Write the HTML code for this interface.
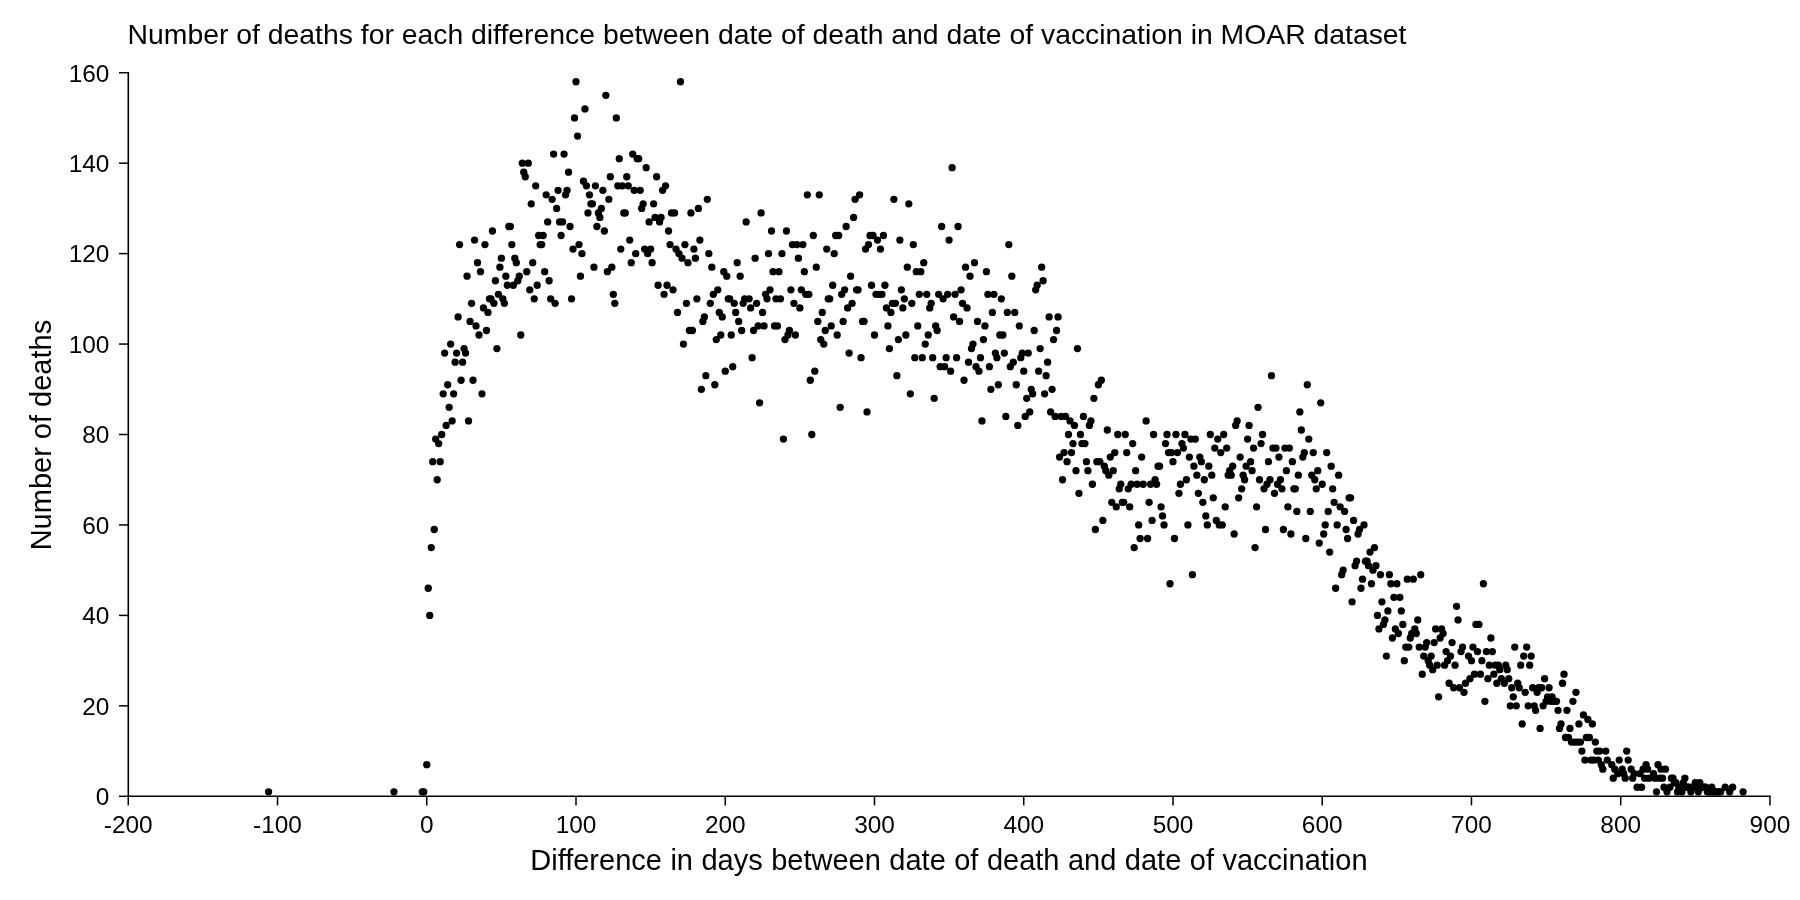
<!DOCTYPE html>
<html><head><meta charset="utf-8"><title>Number of deaths</title>
<style>
html,body{margin:0;padding:0;background:#fff;}
svg{display:block;will-change:transform;font-family:"Liberation Sans",sans-serif;fill:#000;}
.ax line{stroke:#000;stroke-width:1.5;stroke-linecap:butt;}
.tk{font-size:24.4px;}
</style></head><body>
<svg width="1800" height="900" viewBox="0 0 1800 900">
<rect width="1800" height="900" fill="#fff"/>
<text x="127.6" y="44" font-size="28.35">Number of deaths for each difference between date of death and date of vaccination in MOAR dataset</text>
<g class="ax">
<line x1="128.3" y1="71.95" x2="128.3" y2="797.1" style="stroke-width:1.6"/>
<line x1="127.25" y1="796.35" x2="1770.7" y2="796.35"/>
<line x1="128.27" y1="796.35" x2="128.27" y2="805.4"/><line x1="277.52" y1="796.35" x2="277.52" y2="805.4"/><line x1="426.76" y1="796.35" x2="426.76" y2="805.4"/><line x1="576.0" y1="796.35" x2="576.0" y2="805.4"/><line x1="725.25" y1="796.35" x2="725.25" y2="805.4"/><line x1="874.49" y1="796.35" x2="874.49" y2="805.4"/><line x1="1023.74" y1="796.35" x2="1023.74" y2="805.4"/><line x1="1172.98" y1="796.35" x2="1172.98" y2="805.4"/><line x1="1322.22" y1="796.35" x2="1322.22" y2="805.4"/><line x1="1471.47" y1="796.35" x2="1471.47" y2="805.4"/><line x1="1620.71" y1="796.35" x2="1620.71" y2="805.4"/><line x1="1769.96" y1="796.35" x2="1769.96" y2="805.4"/>
<line x1="119" y1="796.3" x2="128" y2="796.3"/><line x1="119" y1="705.85" x2="128" y2="705.85"/><line x1="119" y1="615.4" x2="128" y2="615.4"/><line x1="119" y1="524.96" x2="128" y2="524.96"/><line x1="119" y1="434.51" x2="128" y2="434.51"/><line x1="119" y1="344.06" x2="128" y2="344.06"/><line x1="119" y1="253.61" x2="128" y2="253.61"/><line x1="119" y1="163.16" x2="128" y2="163.16"/><line x1="119" y1="72.72" x2="128" y2="72.72"/>
</g>
<g class="tk"><text x="128.27" y="833" text-anchor="middle">-200</text><text x="277.52" y="833" text-anchor="middle">-100</text><text x="426.76" y="833" text-anchor="middle">0</text><text x="576.0" y="833" text-anchor="middle">100</text><text x="725.25" y="833" text-anchor="middle">200</text><text x="874.49" y="833" text-anchor="middle">300</text><text x="1023.74" y="833" text-anchor="middle">400</text><text x="1172.98" y="833" text-anchor="middle">500</text><text x="1322.22" y="833" text-anchor="middle">600</text><text x="1471.47" y="833" text-anchor="middle">700</text><text x="1620.71" y="833" text-anchor="middle">800</text><text x="1769.96" y="833" text-anchor="middle">900</text><text x="109.4" y="805.05" text-anchor="end">0</text><text x="109.4" y="714.6" text-anchor="end">20</text><text x="109.4" y="624.15" text-anchor="end">40</text><text x="109.4" y="533.71" text-anchor="end">60</text><text x="109.4" y="443.26" text-anchor="end">80</text><text x="109.4" y="352.81" text-anchor="end">100</text><text x="109.4" y="262.36" text-anchor="end">120</text><text x="109.4" y="171.91" text-anchor="end">140</text><text x="109.4" y="82.37" text-anchor="end">160</text></g>
<text x="948.9" y="869.9" font-size="29" word-spacing="0.43" text-anchor="middle">Difference in days between date of death and date of vaccination</text>
<text transform="translate(51,435.1) rotate(-90)" font-size="29" text-anchor="middle">Number of deaths</text>
<g>
<circle cx="268.56" cy="791.78" r="3.65"/>
<circle cx="393.93" cy="791.78" r="3.65"/>
<circle cx="422.28" cy="791.78" r="3.65"/>
<circle cx="423.78" cy="791.78" r="3.65"/>
<circle cx="426.76" cy="764.64" r="3.65"/>
<circle cx="428.25" cy="588.27" r="3.65"/>
<circle cx="429.74" cy="615.4" r="3.65"/>
<circle cx="431.24" cy="547.57" r="3.65"/>
<circle cx="432.73" cy="461.64" r="3.65"/>
<circle cx="434.22" cy="529.48" r="3.65"/>
<circle cx="435.71" cy="439.03" r="3.65"/>
<circle cx="437.21" cy="479.73" r="3.65"/>
<circle cx="438.7" cy="443.55" r="3.65"/>
<circle cx="440.19" cy="461.64" r="3.65"/>
<circle cx="441.68" cy="434.51" r="3.65"/>
<circle cx="443.18" cy="393.81" r="3.65"/>
<circle cx="444.67" cy="353.1" r="3.65"/>
<circle cx="446.16" cy="425.46" r="3.65"/>
<circle cx="447.65" cy="384.76" r="3.65"/>
<circle cx="449.15" cy="407.37" r="3.65"/>
<circle cx="450.64" cy="344.06" r="3.65"/>
<circle cx="452.13" cy="420.94" r="3.65"/>
<circle cx="453.62" cy="393.81" r="3.65"/>
<circle cx="455.12" cy="362.15" r="3.65"/>
<circle cx="456.61" cy="353.1" r="3.65"/>
<circle cx="458.1" cy="316.93" r="3.65"/>
<circle cx="459.59" cy="244.57" r="3.65"/>
<circle cx="461.09" cy="380.24" r="3.65"/>
<circle cx="462.58" cy="362.15" r="3.65"/>
<circle cx="464.07" cy="348.58" r="3.65"/>
<circle cx="465.56" cy="353.1" r="3.65"/>
<circle cx="467.06" cy="276.22" r="3.65"/>
<circle cx="468.55" cy="420.94" r="3.65"/>
<circle cx="470.04" cy="321.45" r="3.65"/>
<circle cx="471.53" cy="303.36" r="3.65"/>
<circle cx="473.03" cy="380.24" r="3.65"/>
<circle cx="474.52" cy="240.04" r="3.65"/>
<circle cx="476.01" cy="325.97" r="3.65"/>
<circle cx="477.5" cy="262.66" r="3.65"/>
<circle cx="479.0" cy="335.02" r="3.65"/>
<circle cx="480.49" cy="271.7" r="3.65"/>
<circle cx="481.98" cy="393.81" r="3.65"/>
<circle cx="483.47" cy="307.88" r="3.65"/>
<circle cx="484.97" cy="244.57" r="3.65"/>
<circle cx="486.46" cy="330.49" r="3.65"/>
<circle cx="487.95" cy="312.4" r="3.65"/>
<circle cx="489.44" cy="298.84" r="3.65"/>
<circle cx="490.93" cy="298.84" r="3.65"/>
<circle cx="492.43" cy="231.0" r="3.65"/>
<circle cx="493.92" cy="303.36" r="3.65"/>
<circle cx="495.41" cy="280.75" r="3.65"/>
<circle cx="496.9" cy="348.58" r="3.65"/>
<circle cx="498.4" cy="294.31" r="3.65"/>
<circle cx="499.89" cy="267.18" r="3.65"/>
<circle cx="501.38" cy="258.13" r="3.65"/>
<circle cx="502.87" cy="298.84" r="3.65"/>
<circle cx="504.37" cy="303.36" r="3.65"/>
<circle cx="505.86" cy="276.22" r="3.65"/>
<circle cx="507.35" cy="285.27" r="3.65"/>
<circle cx="508.84" cy="226.48" r="3.65"/>
<circle cx="510.34" cy="226.48" r="3.65"/>
<circle cx="511.83" cy="244.57" r="3.65"/>
<circle cx="513.32" cy="285.27" r="3.65"/>
<circle cx="514.81" cy="258.13" r="3.65"/>
<circle cx="516.31" cy="262.66" r="3.65"/>
<circle cx="517.8" cy="280.75" r="3.65"/>
<circle cx="519.29" cy="276.22" r="3.65"/>
<circle cx="520.78" cy="335.02" r="3.65"/>
<circle cx="522.28" cy="163.16" r="3.65"/>
<circle cx="523.77" cy="172.21" r="3.65"/>
<circle cx="525.26" cy="176.73" r="3.65"/>
<circle cx="526.75" cy="271.7" r="3.65"/>
<circle cx="528.25" cy="163.16" r="3.65"/>
<circle cx="529.74" cy="289.79" r="3.65"/>
<circle cx="531.23" cy="203.87" r="3.65"/>
<circle cx="532.72" cy="262.66" r="3.65"/>
<circle cx="534.22" cy="298.84" r="3.65"/>
<circle cx="535.71" cy="185.78" r="3.65"/>
<circle cx="537.2" cy="285.27" r="3.65"/>
<circle cx="538.69" cy="235.52" r="3.65"/>
<circle cx="540.19" cy="244.57" r="3.65"/>
<circle cx="541.68" cy="244.57" r="3.65"/>
<circle cx="543.17" cy="235.52" r="3.65"/>
<circle cx="544.66" cy="271.7" r="3.65"/>
<circle cx="546.16" cy="194.82" r="3.65"/>
<circle cx="547.65" cy="221.96" r="3.65"/>
<circle cx="549.14" cy="280.75" r="3.65"/>
<circle cx="550.63" cy="298.84" r="3.65"/>
<circle cx="552.12" cy="199.34" r="3.65"/>
<circle cx="553.62" cy="154.12" r="3.65"/>
<circle cx="555.11" cy="303.36" r="3.65"/>
<circle cx="556.6" cy="208.39" r="3.65"/>
<circle cx="558.09" cy="190.3" r="3.65"/>
<circle cx="559.59" cy="221.96" r="3.65"/>
<circle cx="561.08" cy="235.52" r="3.65"/>
<circle cx="562.57" cy="221.96" r="3.65"/>
<circle cx="564.06" cy="154.12" r="3.65"/>
<circle cx="565.56" cy="194.82" r="3.65"/>
<circle cx="567.05" cy="190.3" r="3.65"/>
<circle cx="568.54" cy="172.21" r="3.65"/>
<circle cx="570.03" cy="226.48" r="3.65"/>
<circle cx="571.53" cy="298.84" r="3.65"/>
<circle cx="573.02" cy="249.09" r="3.65"/>
<circle cx="574.51" cy="117.94" r="3.65"/>
<circle cx="576.0" cy="81.76" r="3.65"/>
<circle cx="577.5" cy="136.03" r="3.65"/>
<circle cx="578.99" cy="244.57" r="3.65"/>
<circle cx="580.48" cy="276.22" r="3.65"/>
<circle cx="581.97" cy="253.61" r="3.65"/>
<circle cx="583.47" cy="181.25" r="3.65"/>
<circle cx="584.96" cy="108.9" r="3.65"/>
<circle cx="586.45" cy="185.78" r="3.65"/>
<circle cx="587.94" cy="212.91" r="3.65"/>
<circle cx="589.44" cy="194.82" r="3.65"/>
<circle cx="590.93" cy="203.87" r="3.65"/>
<circle cx="592.42" cy="203.87" r="3.65"/>
<circle cx="593.91" cy="267.18" r="3.65"/>
<circle cx="595.41" cy="185.78" r="3.65"/>
<circle cx="596.9" cy="226.48" r="3.65"/>
<circle cx="598.39" cy="212.91" r="3.65"/>
<circle cx="599.88" cy="217.43" r="3.65"/>
<circle cx="601.38" cy="208.39" r="3.65"/>
<circle cx="602.87" cy="190.3" r="3.65"/>
<circle cx="604.36" cy="231.0" r="3.65"/>
<circle cx="605.85" cy="95.33" r="3.65"/>
<circle cx="607.35" cy="271.7" r="3.65"/>
<circle cx="608.84" cy="199.34" r="3.65"/>
<circle cx="610.33" cy="176.73" r="3.65"/>
<circle cx="611.82" cy="267.18" r="3.65"/>
<circle cx="613.32" cy="294.31" r="3.65"/>
<circle cx="614.81" cy="303.36" r="3.65"/>
<circle cx="616.3" cy="117.94" r="3.65"/>
<circle cx="617.79" cy="185.78" r="3.65"/>
<circle cx="619.28" cy="158.64" r="3.65"/>
<circle cx="620.78" cy="249.09" r="3.65"/>
<circle cx="622.27" cy="185.78" r="3.65"/>
<circle cx="623.76" cy="212.91" r="3.65"/>
<circle cx="625.25" cy="212.91" r="3.65"/>
<circle cx="626.75" cy="176.73" r="3.65"/>
<circle cx="628.24" cy="185.78" r="3.65"/>
<circle cx="629.73" cy="240.04" r="3.65"/>
<circle cx="631.22" cy="262.66" r="3.65"/>
<circle cx="632.72" cy="154.12" r="3.65"/>
<circle cx="634.21" cy="190.3" r="3.65"/>
<circle cx="635.7" cy="253.61" r="3.65"/>
<circle cx="637.19" cy="158.64" r="3.65"/>
<circle cx="638.69" cy="158.64" r="3.65"/>
<circle cx="640.18" cy="190.3" r="3.65"/>
<circle cx="641.67" cy="208.39" r="3.65"/>
<circle cx="643.16" cy="203.87" r="3.65"/>
<circle cx="644.66" cy="249.09" r="3.65"/>
<circle cx="646.15" cy="167.69" r="3.65"/>
<circle cx="647.64" cy="253.61" r="3.65"/>
<circle cx="649.13" cy="221.96" r="3.65"/>
<circle cx="650.63" cy="249.09" r="3.65"/>
<circle cx="652.12" cy="262.66" r="3.65"/>
<circle cx="653.61" cy="203.87" r="3.65"/>
<circle cx="655.1" cy="217.43" r="3.65"/>
<circle cx="656.6" cy="176.73" r="3.65"/>
<circle cx="658.09" cy="285.27" r="3.65"/>
<circle cx="659.58" cy="221.96" r="3.65"/>
<circle cx="661.07" cy="217.43" r="3.65"/>
<circle cx="662.57" cy="190.3" r="3.65"/>
<circle cx="664.06" cy="294.31" r="3.65"/>
<circle cx="665.55" cy="185.78" r="3.65"/>
<circle cx="667.04" cy="285.27" r="3.65"/>
<circle cx="668.54" cy="231.0" r="3.65"/>
<circle cx="670.03" cy="244.57" r="3.65"/>
<circle cx="671.52" cy="212.91" r="3.65"/>
<circle cx="673.01" cy="289.79" r="3.65"/>
<circle cx="674.51" cy="212.91" r="3.65"/>
<circle cx="676.0" cy="249.09" r="3.65"/>
<circle cx="677.49" cy="312.4" r="3.65"/>
<circle cx="678.98" cy="253.61" r="3.65"/>
<circle cx="680.47" cy="81.76" r="3.65"/>
<circle cx="681.97" cy="258.13" r="3.65"/>
<circle cx="683.46" cy="344.06" r="3.65"/>
<circle cx="684.95" cy="244.57" r="3.65"/>
<circle cx="686.44" cy="303.36" r="3.65"/>
<circle cx="687.94" cy="262.66" r="3.65"/>
<circle cx="689.43" cy="330.49" r="3.65"/>
<circle cx="690.92" cy="212.91" r="3.65"/>
<circle cx="692.41" cy="330.49" r="3.65"/>
<circle cx="693.91" cy="249.09" r="3.65"/>
<circle cx="695.4" cy="258.13" r="3.65"/>
<circle cx="696.89" cy="298.84" r="3.65"/>
<circle cx="698.38" cy="208.39" r="3.65"/>
<circle cx="699.88" cy="240.04" r="3.65"/>
<circle cx="701.37" cy="389.28" r="3.65"/>
<circle cx="702.86" cy="321.45" r="3.65"/>
<circle cx="704.35" cy="316.93" r="3.65"/>
<circle cx="705.85" cy="375.72" r="3.65"/>
<circle cx="707.34" cy="199.34" r="3.65"/>
<circle cx="708.83" cy="253.61" r="3.65"/>
<circle cx="710.32" cy="303.36" r="3.65"/>
<circle cx="711.82" cy="267.18" r="3.65"/>
<circle cx="713.31" cy="294.31" r="3.65"/>
<circle cx="714.8" cy="384.76" r="3.65"/>
<circle cx="716.29" cy="339.54" r="3.65"/>
<circle cx="717.79" cy="289.79" r="3.65"/>
<circle cx="719.28" cy="312.4" r="3.65"/>
<circle cx="720.77" cy="335.02" r="3.65"/>
<circle cx="722.26" cy="316.93" r="3.65"/>
<circle cx="723.76" cy="271.7" r="3.65"/>
<circle cx="725.25" cy="371.19" r="3.65"/>
<circle cx="726.74" cy="276.22" r="3.65"/>
<circle cx="728.23" cy="298.84" r="3.65"/>
<circle cx="729.73" cy="298.84" r="3.65"/>
<circle cx="731.22" cy="335.02" r="3.65"/>
<circle cx="732.71" cy="366.67" r="3.65"/>
<circle cx="734.2" cy="303.36" r="3.65"/>
<circle cx="735.7" cy="312.4" r="3.65"/>
<circle cx="737.19" cy="262.66" r="3.65"/>
<circle cx="738.68" cy="321.45" r="3.65"/>
<circle cx="740.17" cy="276.22" r="3.65"/>
<circle cx="741.66" cy="330.49" r="3.65"/>
<circle cx="743.16" cy="303.36" r="3.65"/>
<circle cx="744.65" cy="298.84" r="3.65"/>
<circle cx="746.14" cy="221.96" r="3.65"/>
<circle cx="749.13" cy="298.84" r="3.65"/>
<circle cx="750.62" cy="307.88" r="3.65"/>
<circle cx="752.11" cy="357.63" r="3.65"/>
<circle cx="753.6" cy="330.49" r="3.65"/>
<circle cx="755.1" cy="258.13" r="3.65"/>
<circle cx="756.59" cy="303.36" r="3.65"/>
<circle cx="758.08" cy="325.97" r="3.65"/>
<circle cx="759.57" cy="402.85" r="3.65"/>
<circle cx="761.07" cy="212.91" r="3.65"/>
<circle cx="762.56" cy="312.4" r="3.65"/>
<circle cx="764.05" cy="325.97" r="3.65"/>
<circle cx="765.54" cy="294.31" r="3.65"/>
<circle cx="767.04" cy="298.84" r="3.65"/>
<circle cx="768.53" cy="253.61" r="3.65"/>
<circle cx="770.02" cy="289.79" r="3.65"/>
<circle cx="771.51" cy="231.0" r="3.65"/>
<circle cx="773.01" cy="271.7" r="3.65"/>
<circle cx="774.5" cy="325.97" r="3.65"/>
<circle cx="775.99" cy="298.84" r="3.65"/>
<circle cx="777.48" cy="325.97" r="3.65"/>
<circle cx="778.98" cy="271.7" r="3.65"/>
<circle cx="780.47" cy="298.84" r="3.65"/>
<circle cx="781.96" cy="253.61" r="3.65"/>
<circle cx="783.45" cy="439.03" r="3.65"/>
<circle cx="784.95" cy="339.54" r="3.65"/>
<circle cx="786.44" cy="231.0" r="3.65"/>
<circle cx="787.93" cy="335.02" r="3.65"/>
<circle cx="789.42" cy="330.49" r="3.65"/>
<circle cx="790.92" cy="289.79" r="3.65"/>
<circle cx="792.41" cy="244.57" r="3.65"/>
<circle cx="793.9" cy="303.36" r="3.65"/>
<circle cx="795.39" cy="335.02" r="3.65"/>
<circle cx="796.89" cy="244.57" r="3.65"/>
<circle cx="798.38" cy="258.13" r="3.65"/>
<circle cx="799.87" cy="307.88" r="3.65"/>
<circle cx="801.36" cy="289.79" r="3.65"/>
<circle cx="802.85" cy="244.57" r="3.65"/>
<circle cx="804.35" cy="271.7" r="3.65"/>
<circle cx="805.84" cy="294.31" r="3.65"/>
<circle cx="807.33" cy="194.82" r="3.65"/>
<circle cx="808.82" cy="294.31" r="3.65"/>
<circle cx="810.32" cy="380.24" r="3.65"/>
<circle cx="811.81" cy="434.51" r="3.65"/>
<circle cx="813.3" cy="235.52" r="3.65"/>
<circle cx="814.79" cy="371.19" r="3.65"/>
<circle cx="816.29" cy="267.18" r="3.65"/>
<circle cx="817.78" cy="321.45" r="3.65"/>
<circle cx="819.27" cy="194.82" r="3.65"/>
<circle cx="820.76" cy="339.54" r="3.65"/>
<circle cx="822.26" cy="312.4" r="3.65"/>
<circle cx="823.75" cy="344.06" r="3.65"/>
<circle cx="825.24" cy="330.49" r="3.65"/>
<circle cx="826.73" cy="249.09" r="3.65"/>
<circle cx="828.23" cy="298.84" r="3.65"/>
<circle cx="829.72" cy="298.84" r="3.65"/>
<circle cx="831.21" cy="325.97" r="3.65"/>
<circle cx="832.7" cy="285.27" r="3.65"/>
<circle cx="834.2" cy="253.61" r="3.65"/>
<circle cx="835.69" cy="235.52" r="3.65"/>
<circle cx="837.18" cy="335.02" r="3.65"/>
<circle cx="838.67" cy="235.52" r="3.65"/>
<circle cx="840.17" cy="407.37" r="3.65"/>
<circle cx="841.66" cy="294.31" r="3.65"/>
<circle cx="843.15" cy="321.45" r="3.65"/>
<circle cx="844.64" cy="289.79" r="3.65"/>
<circle cx="846.14" cy="226.48" r="3.65"/>
<circle cx="847.63" cy="307.88" r="3.65"/>
<circle cx="849.12" cy="353.1" r="3.65"/>
<circle cx="850.61" cy="276.22" r="3.65"/>
<circle cx="852.11" cy="303.36" r="3.65"/>
<circle cx="853.6" cy="217.43" r="3.65"/>
<circle cx="855.09" cy="199.34" r="3.65"/>
<circle cx="856.58" cy="289.79" r="3.65"/>
<circle cx="858.08" cy="289.79" r="3.65"/>
<circle cx="859.57" cy="194.82" r="3.65"/>
<circle cx="861.06" cy="357.63" r="3.65"/>
<circle cx="862.55" cy="321.45" r="3.65"/>
<circle cx="864.04" cy="321.45" r="3.65"/>
<circle cx="865.54" cy="249.09" r="3.65"/>
<circle cx="867.03" cy="411.9" r="3.65"/>
<circle cx="868.52" cy="244.57" r="3.65"/>
<circle cx="870.01" cy="235.52" r="3.65"/>
<circle cx="871.51" cy="285.27" r="3.65"/>
<circle cx="873.0" cy="235.52" r="3.65"/>
<circle cx="874.49" cy="335.02" r="3.65"/>
<circle cx="875.98" cy="294.31" r="3.65"/>
<circle cx="877.48" cy="240.04" r="3.65"/>
<circle cx="878.97" cy="294.31" r="3.65"/>
<circle cx="880.46" cy="249.09" r="3.65"/>
<circle cx="881.95" cy="294.31" r="3.65"/>
<circle cx="883.45" cy="235.52" r="3.65"/>
<circle cx="884.94" cy="285.27" r="3.65"/>
<circle cx="886.43" cy="307.88" r="3.65"/>
<circle cx="887.92" cy="325.97" r="3.65"/>
<circle cx="889.42" cy="348.58" r="3.65"/>
<circle cx="890.91" cy="312.4" r="3.65"/>
<circle cx="892.4" cy="303.36" r="3.65"/>
<circle cx="893.89" cy="199.34" r="3.65"/>
<circle cx="895.39" cy="303.36" r="3.65"/>
<circle cx="896.88" cy="375.72" r="3.65"/>
<circle cx="898.37" cy="339.54" r="3.65"/>
<circle cx="899.86" cy="240.04" r="3.65"/>
<circle cx="901.36" cy="289.79" r="3.65"/>
<circle cx="902.85" cy="307.88" r="3.65"/>
<circle cx="904.34" cy="298.84" r="3.65"/>
<circle cx="905.83" cy="335.02" r="3.65"/>
<circle cx="907.33" cy="267.18" r="3.65"/>
<circle cx="908.82" cy="203.87" r="3.65"/>
<circle cx="910.31" cy="393.81" r="3.65"/>
<circle cx="911.8" cy="303.36" r="3.65"/>
<circle cx="913.3" cy="244.57" r="3.65"/>
<circle cx="914.79" cy="357.63" r="3.65"/>
<circle cx="916.28" cy="271.7" r="3.65"/>
<circle cx="917.77" cy="325.97" r="3.65"/>
<circle cx="919.27" cy="294.31" r="3.65"/>
<circle cx="920.76" cy="271.7" r="3.65"/>
<circle cx="922.25" cy="357.63" r="3.65"/>
<circle cx="923.74" cy="262.66" r="3.65"/>
<circle cx="925.23" cy="344.06" r="3.65"/>
<circle cx="926.73" cy="294.31" r="3.65"/>
<circle cx="928.22" cy="335.02" r="3.65"/>
<circle cx="929.71" cy="307.88" r="3.65"/>
<circle cx="931.2" cy="303.36" r="3.65"/>
<circle cx="932.7" cy="357.63" r="3.65"/>
<circle cx="934.19" cy="398.33" r="3.65"/>
<circle cx="935.68" cy="325.97" r="3.65"/>
<circle cx="937.17" cy="330.49" r="3.65"/>
<circle cx="938.67" cy="294.31" r="3.65"/>
<circle cx="940.16" cy="366.67" r="3.65"/>
<circle cx="941.65" cy="226.48" r="3.65"/>
<circle cx="943.14" cy="298.84" r="3.65"/>
<circle cx="944.64" cy="366.67" r="3.65"/>
<circle cx="946.13" cy="357.63" r="3.65"/>
<circle cx="947.62" cy="294.31" r="3.65"/>
<circle cx="949.11" cy="240.04" r="3.65"/>
<circle cx="950.61" cy="371.19" r="3.65"/>
<circle cx="952.1" cy="167.69" r="3.65"/>
<circle cx="953.59" cy="316.93" r="3.65"/>
<circle cx="955.08" cy="294.31" r="3.65"/>
<circle cx="956.58" cy="357.63" r="3.65"/>
<circle cx="958.07" cy="226.48" r="3.65"/>
<circle cx="959.56" cy="321.45" r="3.65"/>
<circle cx="961.05" cy="289.79" r="3.65"/>
<circle cx="962.55" cy="303.36" r="3.65"/>
<circle cx="964.04" cy="380.24" r="3.65"/>
<circle cx="965.53" cy="267.18" r="3.65"/>
<circle cx="967.02" cy="307.88" r="3.65"/>
<circle cx="968.52" cy="362.15" r="3.65"/>
<circle cx="970.01" cy="276.22" r="3.65"/>
<circle cx="971.5" cy="348.58" r="3.65"/>
<circle cx="972.99" cy="344.06" r="3.65"/>
<circle cx="974.49" cy="262.66" r="3.65"/>
<circle cx="975.98" cy="366.67" r="3.65"/>
<circle cx="977.47" cy="321.45" r="3.65"/>
<circle cx="978.96" cy="371.19" r="3.65"/>
<circle cx="980.46" cy="357.63" r="3.65"/>
<circle cx="981.95" cy="420.94" r="3.65"/>
<circle cx="983.44" cy="339.54" r="3.65"/>
<circle cx="984.93" cy="325.97" r="3.65"/>
<circle cx="986.42" cy="271.7" r="3.65"/>
<circle cx="987.92" cy="294.31" r="3.65"/>
<circle cx="989.41" cy="366.67" r="3.65"/>
<circle cx="990.9" cy="389.28" r="3.65"/>
<circle cx="992.39" cy="312.4" r="3.65"/>
<circle cx="993.89" cy="294.31" r="3.65"/>
<circle cx="995.38" cy="353.1" r="3.65"/>
<circle cx="996.87" cy="357.63" r="3.65"/>
<circle cx="998.36" cy="384.76" r="3.65"/>
<circle cx="999.86" cy="335.02" r="3.65"/>
<circle cx="1001.35" cy="298.84" r="3.65"/>
<circle cx="1002.84" cy="335.02" r="3.65"/>
<circle cx="1004.33" cy="353.1" r="3.65"/>
<circle cx="1005.83" cy="416.42" r="3.65"/>
<circle cx="1007.32" cy="312.4" r="3.65"/>
<circle cx="1008.81" cy="244.57" r="3.65"/>
<circle cx="1010.3" cy="366.67" r="3.65"/>
<circle cx="1011.8" cy="276.22" r="3.65"/>
<circle cx="1013.29" cy="362.15" r="3.65"/>
<circle cx="1014.78" cy="312.4" r="3.65"/>
<circle cx="1016.27" cy="384.76" r="3.65"/>
<circle cx="1017.77" cy="425.46" r="3.65"/>
<circle cx="1019.26" cy="325.97" r="3.65"/>
<circle cx="1020.75" cy="357.63" r="3.65"/>
<circle cx="1022.24" cy="353.1" r="3.65"/>
<circle cx="1023.74" cy="371.19" r="3.65"/>
<circle cx="1025.23" cy="416.42" r="3.65"/>
<circle cx="1026.72" cy="398.33" r="3.65"/>
<circle cx="1028.21" cy="353.1" r="3.65"/>
<circle cx="1029.71" cy="411.9" r="3.65"/>
<circle cx="1031.2" cy="389.28" r="3.65"/>
<circle cx="1032.69" cy="393.81" r="3.65"/>
<circle cx="1034.18" cy="330.49" r="3.65"/>
<circle cx="1035.68" cy="289.79" r="3.65"/>
<circle cx="1037.17" cy="285.27" r="3.65"/>
<circle cx="1038.66" cy="371.19" r="3.65"/>
<circle cx="1040.15" cy="348.58" r="3.65"/>
<circle cx="1041.65" cy="267.18" r="3.65"/>
<circle cx="1043.14" cy="280.75" r="3.65"/>
<circle cx="1044.63" cy="393.81" r="3.65"/>
<circle cx="1046.12" cy="375.72" r="3.65"/>
<circle cx="1047.62" cy="362.15" r="3.65"/>
<circle cx="1049.11" cy="316.93" r="3.65"/>
<circle cx="1050.6" cy="411.9" r="3.65"/>
<circle cx="1052.09" cy="389.28" r="3.65"/>
<circle cx="1053.58" cy="339.54" r="3.65"/>
<circle cx="1055.08" cy="416.42" r="3.65"/>
<circle cx="1056.57" cy="330.49" r="3.65"/>
<circle cx="1058.06" cy="316.93" r="3.65"/>
<circle cx="1059.55" cy="457.12" r="3.65"/>
<circle cx="1061.05" cy="416.42" r="3.65"/>
<circle cx="1062.54" cy="479.73" r="3.65"/>
<circle cx="1064.03" cy="452.6" r="3.65"/>
<circle cx="1065.52" cy="416.42" r="3.65"/>
<circle cx="1067.02" cy="461.64" r="3.65"/>
<circle cx="1068.51" cy="434.51" r="3.65"/>
<circle cx="1070.0" cy="420.94" r="3.65"/>
<circle cx="1071.49" cy="452.6" r="3.65"/>
<circle cx="1072.99" cy="443.55" r="3.65"/>
<circle cx="1074.48" cy="425.46" r="3.65"/>
<circle cx="1075.97" cy="470.69" r="3.65"/>
<circle cx="1077.46" cy="348.58" r="3.65"/>
<circle cx="1078.96" cy="493.3" r="3.65"/>
<circle cx="1080.45" cy="434.51" r="3.65"/>
<circle cx="1081.94" cy="443.55" r="3.65"/>
<circle cx="1083.43" cy="416.42" r="3.65"/>
<circle cx="1084.93" cy="443.55" r="3.65"/>
<circle cx="1086.42" cy="461.64" r="3.65"/>
<circle cx="1087.91" cy="470.69" r="3.65"/>
<circle cx="1089.4" cy="425.46" r="3.65"/>
<circle cx="1090.9" cy="420.94" r="3.65"/>
<circle cx="1092.39" cy="484.25" r="3.65"/>
<circle cx="1093.88" cy="398.33" r="3.65"/>
<circle cx="1095.37" cy="529.48" r="3.65"/>
<circle cx="1096.87" cy="461.64" r="3.65"/>
<circle cx="1098.36" cy="384.76" r="3.65"/>
<circle cx="1099.85" cy="461.64" r="3.65"/>
<circle cx="1101.34" cy="380.24" r="3.65"/>
<circle cx="1102.84" cy="520.43" r="3.65"/>
<circle cx="1104.33" cy="466.16" r="3.65"/>
<circle cx="1105.82" cy="470.69" r="3.65"/>
<circle cx="1107.31" cy="429.99" r="3.65"/>
<circle cx="1108.81" cy="475.21" r="3.65"/>
<circle cx="1110.3" cy="457.12" r="3.65"/>
<circle cx="1111.79" cy="502.34" r="3.65"/>
<circle cx="1113.28" cy="470.69" r="3.65"/>
<circle cx="1114.77" cy="452.6" r="3.65"/>
<circle cx="1116.27" cy="506.87" r="3.65"/>
<circle cx="1117.76" cy="434.51" r="3.65"/>
<circle cx="1119.25" cy="488.78" r="3.65"/>
<circle cx="1120.74" cy="484.25" r="3.65"/>
<circle cx="1122.24" cy="502.34" r="3.65"/>
<circle cx="1123.73" cy="502.34" r="3.65"/>
<circle cx="1125.22" cy="434.51" r="3.65"/>
<circle cx="1126.71" cy="452.6" r="3.65"/>
<circle cx="1128.21" cy="488.78" r="3.65"/>
<circle cx="1129.7" cy="506.87" r="3.65"/>
<circle cx="1131.19" cy="484.25" r="3.65"/>
<circle cx="1132.68" cy="443.55" r="3.65"/>
<circle cx="1134.18" cy="547.57" r="3.65"/>
<circle cx="1135.67" cy="470.69" r="3.65"/>
<circle cx="1137.16" cy="484.25" r="3.65"/>
<circle cx="1138.65" cy="524.96" r="3.65"/>
<circle cx="1140.15" cy="538.52" r="3.65"/>
<circle cx="1141.64" cy="457.12" r="3.65"/>
<circle cx="1143.13" cy="484.25" r="3.65"/>
<circle cx="1146.12" cy="420.94" r="3.65"/>
<circle cx="1147.61" cy="538.52" r="3.65"/>
<circle cx="1149.1" cy="502.34" r="3.65"/>
<circle cx="1150.59" cy="484.25" r="3.65"/>
<circle cx="1152.09" cy="520.43" r="3.65"/>
<circle cx="1153.58" cy="434.51" r="3.65"/>
<circle cx="1155.07" cy="479.73" r="3.65"/>
<circle cx="1156.56" cy="484.25" r="3.65"/>
<circle cx="1158.06" cy="466.16" r="3.65"/>
<circle cx="1159.55" cy="466.16" r="3.65"/>
<circle cx="1161.04" cy="506.87" r="3.65"/>
<circle cx="1162.53" cy="515.91" r="3.65"/>
<circle cx="1164.03" cy="524.96" r="3.65"/>
<circle cx="1165.52" cy="443.55" r="3.65"/>
<circle cx="1167.01" cy="434.51" r="3.65"/>
<circle cx="1168.5" cy="452.6" r="3.65"/>
<circle cx="1170.0" cy="583.75" r="3.65"/>
<circle cx="1171.49" cy="452.6" r="3.65"/>
<circle cx="1172.98" cy="461.64" r="3.65"/>
<circle cx="1174.47" cy="538.52" r="3.65"/>
<circle cx="1175.96" cy="434.51" r="3.65"/>
<circle cx="1177.46" cy="452.6" r="3.65"/>
<circle cx="1178.95" cy="493.3" r="3.65"/>
<circle cx="1180.44" cy="484.25" r="3.65"/>
<circle cx="1181.93" cy="443.55" r="3.65"/>
<circle cx="1183.43" cy="448.08" r="3.65"/>
<circle cx="1184.92" cy="434.51" r="3.65"/>
<circle cx="1186.41" cy="479.73" r="3.65"/>
<circle cx="1187.9" cy="524.96" r="3.65"/>
<circle cx="1189.4" cy="457.12" r="3.65"/>
<circle cx="1190.89" cy="439.03" r="3.65"/>
<circle cx="1192.38" cy="574.7" r="3.65"/>
<circle cx="1193.87" cy="466.16" r="3.65"/>
<circle cx="1195.37" cy="439.03" r="3.65"/>
<circle cx="1196.86" cy="475.21" r="3.65"/>
<circle cx="1198.35" cy="493.3" r="3.65"/>
<circle cx="1199.84" cy="457.12" r="3.65"/>
<circle cx="1201.34" cy="461.64" r="3.65"/>
<circle cx="1202.83" cy="502.34" r="3.65"/>
<circle cx="1204.32" cy="479.73" r="3.65"/>
<circle cx="1205.81" cy="515.91" r="3.65"/>
<circle cx="1207.31" cy="524.96" r="3.65"/>
<circle cx="1208.8" cy="466.16" r="3.65"/>
<circle cx="1210.29" cy="434.51" r="3.65"/>
<circle cx="1211.78" cy="475.21" r="3.65"/>
<circle cx="1213.28" cy="497.82" r="3.65"/>
<circle cx="1214.77" cy="448.08" r="3.65"/>
<circle cx="1216.26" cy="520.43" r="3.65"/>
<circle cx="1217.75" cy="439.03" r="3.65"/>
<circle cx="1219.25" cy="524.96" r="3.65"/>
<circle cx="1220.74" cy="452.6" r="3.65"/>
<circle cx="1222.23" cy="524.96" r="3.65"/>
<circle cx="1223.72" cy="434.51" r="3.65"/>
<circle cx="1225.22" cy="506.87" r="3.65"/>
<circle cx="1226.71" cy="448.08" r="3.65"/>
<circle cx="1228.2" cy="475.21" r="3.65"/>
<circle cx="1229.69" cy="470.69" r="3.65"/>
<circle cx="1231.19" cy="475.21" r="3.65"/>
<circle cx="1232.68" cy="466.16" r="3.65"/>
<circle cx="1234.17" cy="534.0" r="3.65"/>
<circle cx="1235.66" cy="425.46" r="3.65"/>
<circle cx="1237.15" cy="420.94" r="3.65"/>
<circle cx="1238.65" cy="497.82" r="3.65"/>
<circle cx="1240.14" cy="457.12" r="3.65"/>
<circle cx="1241.63" cy="488.78" r="3.65"/>
<circle cx="1243.12" cy="475.21" r="3.65"/>
<circle cx="1244.62" cy="479.73" r="3.65"/>
<circle cx="1246.11" cy="466.16" r="3.65"/>
<circle cx="1247.6" cy="439.03" r="3.65"/>
<circle cx="1249.09" cy="425.46" r="3.65"/>
<circle cx="1250.59" cy="461.64" r="3.65"/>
<circle cx="1252.08" cy="470.69" r="3.65"/>
<circle cx="1253.57" cy="448.08" r="3.65"/>
<circle cx="1255.06" cy="547.57" r="3.65"/>
<circle cx="1256.56" cy="506.87" r="3.65"/>
<circle cx="1258.05" cy="407.37" r="3.65"/>
<circle cx="1259.54" cy="479.73" r="3.65"/>
<circle cx="1261.03" cy="443.55" r="3.65"/>
<circle cx="1262.53" cy="434.51" r="3.65"/>
<circle cx="1264.02" cy="488.78" r="3.65"/>
<circle cx="1265.51" cy="529.48" r="3.65"/>
<circle cx="1267.0" cy="484.25" r="3.65"/>
<circle cx="1268.5" cy="461.64" r="3.65"/>
<circle cx="1269.99" cy="479.73" r="3.65"/>
<circle cx="1271.48" cy="375.72" r="3.65"/>
<circle cx="1272.97" cy="448.08" r="3.65"/>
<circle cx="1274.47" cy="493.3" r="3.65"/>
<circle cx="1275.96" cy="448.08" r="3.65"/>
<circle cx="1277.45" cy="484.25" r="3.65"/>
<circle cx="1278.94" cy="457.12" r="3.65"/>
<circle cx="1280.44" cy="479.73" r="3.65"/>
<circle cx="1281.93" cy="488.78" r="3.65"/>
<circle cx="1283.42" cy="529.48" r="3.65"/>
<circle cx="1284.91" cy="448.08" r="3.65"/>
<circle cx="1286.41" cy="470.69" r="3.65"/>
<circle cx="1287.9" cy="506.87" r="3.65"/>
<circle cx="1289.39" cy="448.08" r="3.65"/>
<circle cx="1290.88" cy="534.0" r="3.65"/>
<circle cx="1292.38" cy="461.64" r="3.65"/>
<circle cx="1293.87" cy="488.78" r="3.65"/>
<circle cx="1295.36" cy="488.78" r="3.65"/>
<circle cx="1296.85" cy="511.39" r="3.65"/>
<circle cx="1298.34" cy="475.21" r="3.65"/>
<circle cx="1299.84" cy="411.9" r="3.65"/>
<circle cx="1301.33" cy="429.99" r="3.65"/>
<circle cx="1302.82" cy="457.12" r="3.65"/>
<circle cx="1304.31" cy="452.6" r="3.65"/>
<circle cx="1305.81" cy="538.52" r="3.65"/>
<circle cx="1307.3" cy="384.76" r="3.65"/>
<circle cx="1308.79" cy="439.03" r="3.65"/>
<circle cx="1310.28" cy="511.39" r="3.65"/>
<circle cx="1311.78" cy="475.21" r="3.65"/>
<circle cx="1313.27" cy="452.6" r="3.65"/>
<circle cx="1314.76" cy="479.73" r="3.65"/>
<circle cx="1316.25" cy="488.78" r="3.65"/>
<circle cx="1317.75" cy="470.69" r="3.65"/>
<circle cx="1319.24" cy="543.05" r="3.65"/>
<circle cx="1320.73" cy="402.85" r="3.65"/>
<circle cx="1322.22" cy="484.25" r="3.65"/>
<circle cx="1323.72" cy="534.0" r="3.65"/>
<circle cx="1325.21" cy="524.96" r="3.65"/>
<circle cx="1326.7" cy="452.6" r="3.65"/>
<circle cx="1328.19" cy="511.39" r="3.65"/>
<circle cx="1329.69" cy="552.09" r="3.65"/>
<circle cx="1331.18" cy="466.16" r="3.65"/>
<circle cx="1332.67" cy="488.78" r="3.65"/>
<circle cx="1334.16" cy="502.34" r="3.65"/>
<circle cx="1335.66" cy="588.27" r="3.65"/>
<circle cx="1337.15" cy="524.96" r="3.65"/>
<circle cx="1338.64" cy="475.21" r="3.65"/>
<circle cx="1340.13" cy="506.87" r="3.65"/>
<circle cx="1341.63" cy="574.7" r="3.65"/>
<circle cx="1343.12" cy="570.18" r="3.65"/>
<circle cx="1344.61" cy="511.39" r="3.65"/>
<circle cx="1346.1" cy="529.48" r="3.65"/>
<circle cx="1347.6" cy="538.52" r="3.65"/>
<circle cx="1349.09" cy="497.82" r="3.65"/>
<circle cx="1350.58" cy="497.82" r="3.65"/>
<circle cx="1352.07" cy="601.84" r="3.65"/>
<circle cx="1353.57" cy="520.43" r="3.65"/>
<circle cx="1355.06" cy="565.66" r="3.65"/>
<circle cx="1356.55" cy="561.14" r="3.65"/>
<circle cx="1358.04" cy="534.0" r="3.65"/>
<circle cx="1359.53" cy="529.48" r="3.65"/>
<circle cx="1361.03" cy="588.27" r="3.65"/>
<circle cx="1362.52" cy="579.22" r="3.65"/>
<circle cx="1364.01" cy="524.96" r="3.65"/>
<circle cx="1365.5" cy="561.14" r="3.65"/>
<circle cx="1367.0" cy="561.14" r="3.65"/>
<circle cx="1368.49" cy="565.66" r="3.65"/>
<circle cx="1369.98" cy="552.09" r="3.65"/>
<circle cx="1371.47" cy="583.75" r="3.65"/>
<circle cx="1372.97" cy="570.18" r="3.65"/>
<circle cx="1374.46" cy="547.57" r="3.65"/>
<circle cx="1375.95" cy="565.66" r="3.65"/>
<circle cx="1377.44" cy="615.4" r="3.65"/>
<circle cx="1378.94" cy="628.97" r="3.65"/>
<circle cx="1380.43" cy="574.7" r="3.65"/>
<circle cx="1381.92" cy="601.84" r="3.65"/>
<circle cx="1383.41" cy="624.45" r="3.65"/>
<circle cx="1384.91" cy="619.93" r="3.65"/>
<circle cx="1386.4" cy="656.11" r="3.65"/>
<circle cx="1387.89" cy="610.88" r="3.65"/>
<circle cx="1389.38" cy="574.7" r="3.65"/>
<circle cx="1390.88" cy="583.75" r="3.65"/>
<circle cx="1392.37" cy="638.02" r="3.65"/>
<circle cx="1393.86" cy="597.31" r="3.65"/>
<circle cx="1395.35" cy="628.97" r="3.65"/>
<circle cx="1396.85" cy="583.75" r="3.65"/>
<circle cx="1398.34" cy="633.49" r="3.65"/>
<circle cx="1399.83" cy="597.31" r="3.65"/>
<circle cx="1401.32" cy="610.88" r="3.65"/>
<circle cx="1402.82" cy="624.45" r="3.65"/>
<circle cx="1404.31" cy="660.63" r="3.65"/>
<circle cx="1405.8" cy="647.06" r="3.65"/>
<circle cx="1407.29" cy="579.22" r="3.65"/>
<circle cx="1408.79" cy="647.06" r="3.65"/>
<circle cx="1410.28" cy="638.02" r="3.65"/>
<circle cx="1411.77" cy="633.49" r="3.65"/>
<circle cx="1413.26" cy="579.22" r="3.65"/>
<circle cx="1414.76" cy="628.97" r="3.65"/>
<circle cx="1416.25" cy="633.49" r="3.65"/>
<circle cx="1417.74" cy="619.93" r="3.65"/>
<circle cx="1419.23" cy="647.06" r="3.65"/>
<circle cx="1420.73" cy="574.7" r="3.65"/>
<circle cx="1422.22" cy="674.2" r="3.65"/>
<circle cx="1423.71" cy="656.11" r="3.65"/>
<circle cx="1425.2" cy="647.06" r="3.65"/>
<circle cx="1426.69" cy="642.54" r="3.65"/>
<circle cx="1428.19" cy="660.63" r="3.65"/>
<circle cx="1429.68" cy="665.15" r="3.65"/>
<circle cx="1431.17" cy="656.11" r="3.65"/>
<circle cx="1432.66" cy="669.67" r="3.65"/>
<circle cx="1434.16" cy="642.54" r="3.65"/>
<circle cx="1435.65" cy="628.97" r="3.65"/>
<circle cx="1437.14" cy="665.15" r="3.65"/>
<circle cx="1438.63" cy="696.81" r="3.65"/>
<circle cx="1440.13" cy="638.02" r="3.65"/>
<circle cx="1441.62" cy="628.97" r="3.65"/>
<circle cx="1443.11" cy="633.49" r="3.65"/>
<circle cx="1444.6" cy="665.15" r="3.65"/>
<circle cx="1446.1" cy="651.58" r="3.65"/>
<circle cx="1447.59" cy="660.63" r="3.65"/>
<circle cx="1449.08" cy="683.24" r="3.65"/>
<circle cx="1450.57" cy="656.11" r="3.65"/>
<circle cx="1452.07" cy="642.54" r="3.65"/>
<circle cx="1453.56" cy="687.76" r="3.65"/>
<circle cx="1455.05" cy="665.15" r="3.65"/>
<circle cx="1456.54" cy="606.36" r="3.65"/>
<circle cx="1458.04" cy="619.93" r="3.65"/>
<circle cx="1459.53" cy="687.76" r="3.65"/>
<circle cx="1461.02" cy="651.58" r="3.65"/>
<circle cx="1462.51" cy="647.06" r="3.65"/>
<circle cx="1464.01" cy="692.28" r="3.65"/>
<circle cx="1465.5" cy="683.24" r="3.65"/>
<circle cx="1468.48" cy="656.11" r="3.65"/>
<circle cx="1469.98" cy="678.72" r="3.65"/>
<circle cx="1471.47" cy="660.63" r="3.65"/>
<circle cx="1472.96" cy="647.06" r="3.65"/>
<circle cx="1474.45" cy="674.2" r="3.65"/>
<circle cx="1475.95" cy="624.45" r="3.65"/>
<circle cx="1477.44" cy="651.58" r="3.65"/>
<circle cx="1478.93" cy="624.45" r="3.65"/>
<circle cx="1480.42" cy="674.2" r="3.65"/>
<circle cx="1481.92" cy="660.63" r="3.65"/>
<circle cx="1483.41" cy="583.75" r="3.65"/>
<circle cx="1484.9" cy="701.33" r="3.65"/>
<circle cx="1486.39" cy="651.58" r="3.65"/>
<circle cx="1487.88" cy="678.72" r="3.65"/>
<circle cx="1489.38" cy="665.15" r="3.65"/>
<circle cx="1490.87" cy="638.02" r="3.65"/>
<circle cx="1492.36" cy="651.58" r="3.65"/>
<circle cx="1493.85" cy="674.2" r="3.65"/>
<circle cx="1495.35" cy="665.15" r="3.65"/>
<circle cx="1496.84" cy="683.24" r="3.65"/>
<circle cx="1498.33" cy="665.15" r="3.65"/>
<circle cx="1499.82" cy="669.67" r="3.65"/>
<circle cx="1501.32" cy="678.72" r="3.65"/>
<circle cx="1504.3" cy="683.24" r="3.65"/>
<circle cx="1505.79" cy="665.15" r="3.65"/>
<circle cx="1507.29" cy="669.67" r="3.65"/>
<circle cx="1508.78" cy="678.72" r="3.65"/>
<circle cx="1510.27" cy="705.85" r="3.65"/>
<circle cx="1511.76" cy="687.76" r="3.65"/>
<circle cx="1513.26" cy="696.81" r="3.65"/>
<circle cx="1514.75" cy="647.06" r="3.65"/>
<circle cx="1516.24" cy="705.85" r="3.65"/>
<circle cx="1517.73" cy="683.24" r="3.65"/>
<circle cx="1519.23" cy="687.76" r="3.65"/>
<circle cx="1520.72" cy="665.15" r="3.65"/>
<circle cx="1522.21" cy="723.94" r="3.65"/>
<circle cx="1523.7" cy="656.11" r="3.65"/>
<circle cx="1525.2" cy="692.28" r="3.65"/>
<circle cx="1526.69" cy="647.06" r="3.65"/>
<circle cx="1528.18" cy="705.85" r="3.65"/>
<circle cx="1529.67" cy="665.15" r="3.65"/>
<circle cx="1531.17" cy="656.11" r="3.65"/>
<circle cx="1532.66" cy="687.76" r="3.65"/>
<circle cx="1534.15" cy="705.85" r="3.65"/>
<circle cx="1535.64" cy="710.37" r="3.65"/>
<circle cx="1537.14" cy="692.28" r="3.65"/>
<circle cx="1538.63" cy="687.76" r="3.65"/>
<circle cx="1540.12" cy="728.46" r="3.65"/>
<circle cx="1541.61" cy="687.76" r="3.65"/>
<circle cx="1543.11" cy="705.85" r="3.65"/>
<circle cx="1544.6" cy="678.72" r="3.65"/>
<circle cx="1546.09" cy="701.33" r="3.65"/>
<circle cx="1547.58" cy="696.81" r="3.65"/>
<circle cx="1549.07" cy="687.76" r="3.65"/>
<circle cx="1550.57" cy="701.33" r="3.65"/>
<circle cx="1552.06" cy="696.81" r="3.65"/>
<circle cx="1553.55" cy="701.33" r="3.65"/>
<circle cx="1555.04" cy="701.33" r="3.65"/>
<circle cx="1556.54" cy="701.33" r="3.65"/>
<circle cx="1558.03" cy="710.37" r="3.65"/>
<circle cx="1559.52" cy="728.46" r="3.65"/>
<circle cx="1561.01" cy="723.94" r="3.65"/>
<circle cx="1562.51" cy="683.24" r="3.65"/>
<circle cx="1564.0" cy="674.2" r="3.65"/>
<circle cx="1565.49" cy="737.51" r="3.65"/>
<circle cx="1566.98" cy="710.37" r="3.65"/>
<circle cx="1568.48" cy="737.51" r="3.65"/>
<circle cx="1569.97" cy="728.46" r="3.65"/>
<circle cx="1571.46" cy="742.03" r="3.65"/>
<circle cx="1572.95" cy="701.33" r="3.65"/>
<circle cx="1574.45" cy="742.03" r="3.65"/>
<circle cx="1575.94" cy="692.28" r="3.65"/>
<circle cx="1577.43" cy="742.03" r="3.65"/>
<circle cx="1578.92" cy="723.94" r="3.65"/>
<circle cx="1580.42" cy="742.03" r="3.65"/>
<circle cx="1581.91" cy="751.08" r="3.65"/>
<circle cx="1583.4" cy="714.9" r="3.65"/>
<circle cx="1584.89" cy="760.12" r="3.65"/>
<circle cx="1586.39" cy="737.51" r="3.65"/>
<circle cx="1587.88" cy="719.42" r="3.65"/>
<circle cx="1589.37" cy="737.51" r="3.65"/>
<circle cx="1590.86" cy="760.12" r="3.65"/>
<circle cx="1592.36" cy="723.94" r="3.65"/>
<circle cx="1593.85" cy="760.12" r="3.65"/>
<circle cx="1595.34" cy="742.03" r="3.65"/>
<circle cx="1596.83" cy="751.08" r="3.65"/>
<circle cx="1598.33" cy="760.12" r="3.65"/>
<circle cx="1599.82" cy="751.08" r="3.65"/>
<circle cx="1601.31" cy="764.64" r="3.65"/>
<circle cx="1602.8" cy="769.17" r="3.65"/>
<circle cx="1605.79" cy="751.08" r="3.65"/>
<circle cx="1607.28" cy="760.12" r="3.65"/>
<circle cx="1611.76" cy="764.64" r="3.65"/>
<circle cx="1613.25" cy="778.21" r="3.65"/>
<circle cx="1614.74" cy="769.17" r="3.65"/>
<circle cx="1617.73" cy="773.69" r="3.65"/>
<circle cx="1619.22" cy="760.12" r="3.65"/>
<circle cx="1622.2" cy="769.17" r="3.65"/>
<circle cx="1623.7" cy="773.69" r="3.65"/>
<circle cx="1625.19" cy="778.21" r="3.65"/>
<circle cx="1626.68" cy="751.08" r="3.65"/>
<circle cx="1628.17" cy="760.12" r="3.65"/>
<circle cx="1631.16" cy="769.17" r="3.65"/>
<circle cx="1632.65" cy="778.21" r="3.65"/>
<circle cx="1634.14" cy="773.69" r="3.65"/>
<circle cx="1637.13" cy="787.26" r="3.65"/>
<circle cx="1640.11" cy="773.69" r="3.65"/>
<circle cx="1641.61" cy="787.26" r="3.65"/>
<circle cx="1643.1" cy="769.17" r="3.65"/>
<circle cx="1644.59" cy="778.21" r="3.65"/>
<circle cx="1646.08" cy="764.64" r="3.65"/>
<circle cx="1647.58" cy="769.17" r="3.65"/>
<circle cx="1649.07" cy="778.21" r="3.65"/>
<circle cx="1653.55" cy="773.69" r="3.65"/>
<circle cx="1655.04" cy="778.21" r="3.65"/>
<circle cx="1656.53" cy="791.78" r="3.65"/>
<circle cx="1658.02" cy="764.64" r="3.65"/>
<circle cx="1659.52" cy="778.21" r="3.65"/>
<circle cx="1661.01" cy="769.17" r="3.65"/>
<circle cx="1662.5" cy="778.21" r="3.65"/>
<circle cx="1663.99" cy="787.26" r="3.65"/>
<circle cx="1665.49" cy="769.17" r="3.65"/>
<circle cx="1666.98" cy="791.78" r="3.65"/>
<circle cx="1669.96" cy="787.26" r="3.65"/>
<circle cx="1671.45" cy="778.21" r="3.65"/>
<circle cx="1672.95" cy="778.21" r="3.65"/>
<circle cx="1674.44" cy="782.73" r="3.65"/>
<circle cx="1675.93" cy="782.73" r="3.65"/>
<circle cx="1677.42" cy="791.78" r="3.65"/>
<circle cx="1678.92" cy="787.26" r="3.65"/>
<circle cx="1680.41" cy="787.26" r="3.65"/>
<circle cx="1681.9" cy="791.78" r="3.65"/>
<circle cx="1683.39" cy="782.73" r="3.65"/>
<circle cx="1684.89" cy="778.21" r="3.65"/>
<circle cx="1686.38" cy="787.26" r="3.65"/>
<circle cx="1687.87" cy="787.26" r="3.65"/>
<circle cx="1689.36" cy="787.26" r="3.65"/>
<circle cx="1690.86" cy="791.78" r="3.65"/>
<circle cx="1692.35" cy="787.26" r="3.65"/>
<circle cx="1693.84" cy="787.26" r="3.65"/>
<circle cx="1695.33" cy="782.73" r="3.65"/>
<circle cx="1696.83" cy="787.26" r="3.65"/>
<circle cx="1698.32" cy="791.78" r="3.65"/>
<circle cx="1699.81" cy="782.73" r="3.65"/>
<circle cx="1701.3" cy="787.26" r="3.65"/>
<circle cx="1702.8" cy="787.26" r="3.65"/>
<circle cx="1704.29" cy="787.26" r="3.65"/>
<circle cx="1705.78" cy="787.26" r="3.65"/>
<circle cx="1707.27" cy="791.78" r="3.65"/>
<circle cx="1708.77" cy="791.78" r="3.65"/>
<circle cx="1710.26" cy="791.78" r="3.65"/>
<circle cx="1711.75" cy="787.26" r="3.65"/>
<circle cx="1713.24" cy="791.78" r="3.65"/>
<circle cx="1714.74" cy="791.78" r="3.65"/>
<circle cx="1716.23" cy="791.78" r="3.65"/>
<circle cx="1717.72" cy="791.78" r="3.65"/>
<circle cx="1719.21" cy="791.78" r="3.65"/>
<circle cx="1720.71" cy="791.78" r="3.65"/>
<circle cx="1725.18" cy="787.26" r="3.65"/>
<circle cx="1729.66" cy="791.78" r="3.65"/>
<circle cx="1732.64" cy="787.26" r="3.65"/>
<circle cx="1743.09" cy="791.78" r="3.65"/>
</g>
</svg>
</body></html>
